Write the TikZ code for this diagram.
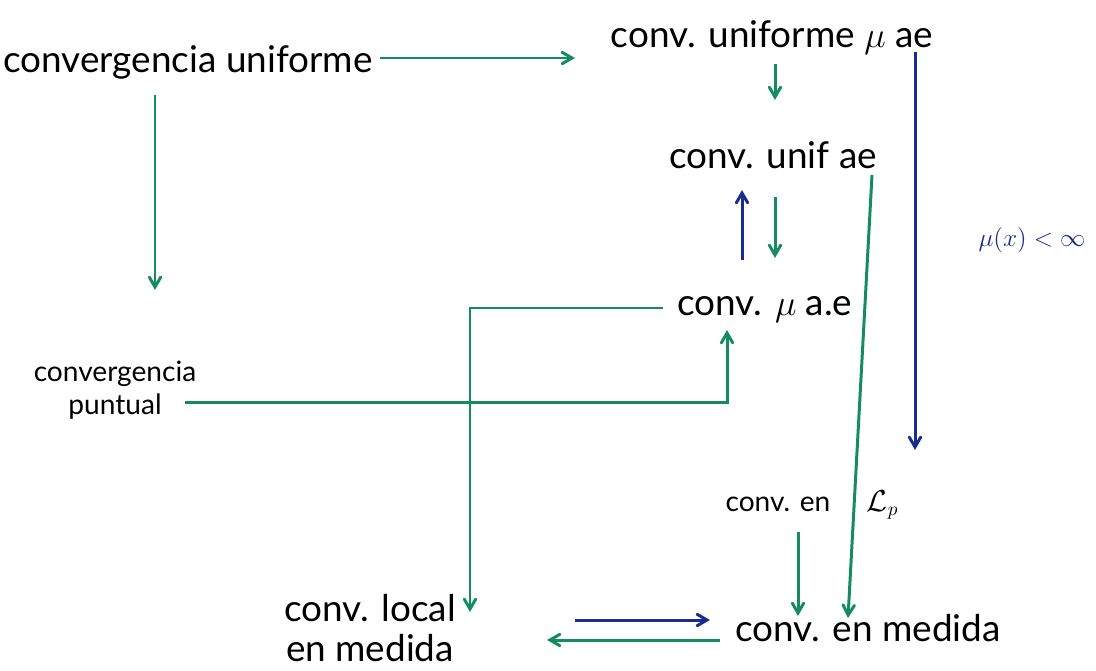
\documentclass[tikz,border=0pt]{standalone}
\usepackage{amsmath}
\usepackage{amssymb}
\usepackage{xcolor}
\usepackage{fontspec}
\setmainfont{Lato}
\usepackage{tikz}
\usetikzlibrary{arrows}
\usetikzlibrary{calc}
\usetikzlibrary{positioning}
\definecolor{verde}{RGB}{20,140,95}
\definecolor{azul}{RGB}{25,45,145}
\begin{document}
\begin{tikzpicture}[->,>=angle 60,x=0.02cm,y=-0.02cm,line width=1.7pt]
 				 \tikzstyle{conv}=[inner sep=0pt, align=center, font=\fontsize{21}{23}\selectfont]
 				 \tikzstyle{chico}=[inner sep=0pt, align=center, font=\fontsize{16}{19}\selectfont]
 				 \tikzstyle{v}=[color=verde]
 				 \tikzstyle{a}=[color=azul]
 				 \useasboundingbox (0,0) rectangle (1096,670);
 					 \node[conv] 			(cu) at (188,62)                    		{convergencia uniforme};
 					 \node[conv] 			(cume) at (772,38)                   		{conv. uniforme $\mu$ ae};
 					 \node[conv] 			(cuae) at (773,155)                   		{conv. unif ae};
 					 \node[conv] 			(cmae) at (765,310)                  		{conv. $\mu$ a.e};
 					 \node[chico]          (cp) at (115,390) {convergencia\\puntual};
 					 \node[chico]          (clp) at (812,505) {conv. en\hspace{1.3em}$\mathcal{L}_p$};
 					 \node[conv]          (clm) at (370,628) {conv. local\\en medida};
 					 \node[conv]          (cm) at (868,628) {conv. en medida};
 					 \node[chico, a, font=\fontsize{14}{16}\selectfont]          (cond) at (1032,240) {$\mu(x)<\infty$};
				\path
				($(cu)+(192,-4)$) edge [v] ($(cume)+(-197,20)$)
				($(cu)+(-33,33)$) edge [v] ($(cp)+(40,-100)$)
				($(cume)+(3,26)$) edge [v] ($(cuae)+(2,-55)$)
				($(cuae)+(2,42)$) edge [v] ($(cmae)+(10,-52)$)
				($(cmae)+(-23,-50)$) edge [a] ($(cuae)+(-31,35)$)
				($(cume)+(143,14)$) edge [a] ($(clp)+(103,-55)$)
				($(cuae)+(99,20)$) edge [v] ($(cm)+(-20,-10)$)
				($(clp)+(-14,27)$) edge [v] ($(cm)+(-70,-12)$)
				($(clm)+(205,-8)$) edge [a] ($(cm)+(-158,-8)$)
				($(cm)+(-148,12)$) edge [v] ($(clm)+(177,12)$);
				\draw[v] ($(cmae)+(-102,-2)$) -| ($(clm)+(100,-16)$);
				\draw[v] ($(cp)+(70,12)$) -| ($(cmae)+(-38,20)$);
\end{tikzpicture}
\end{document}
